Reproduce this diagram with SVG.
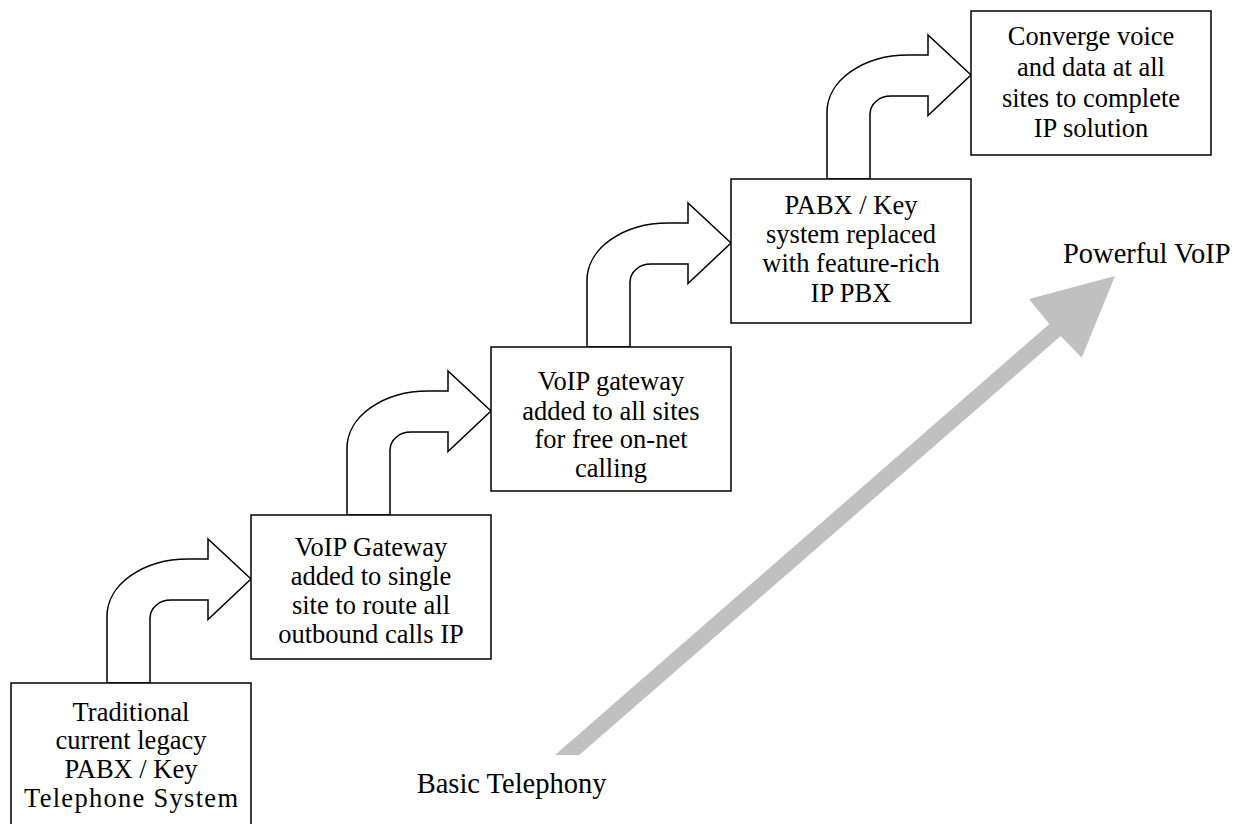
<svg xmlns="http://www.w3.org/2000/svg" width="1253" height="824" viewBox="0 0 1253 824">
<defs>
<style>
.box{fill:#fff;stroke:#000;stroke-width:1.5}
.bent{fill:#fff;stroke:#000;stroke-width:1.5;stroke-linejoin:miter}
.t{font-family:"Liberation Serif","Times New Roman",serif;font-size:26.5px;fill:#000;text-anchor:middle}
.lbl{font-family:"Liberation Serif","Times New Roman",serif;font-size:28.5px;fill:#000}
</style>
<path id="bentArrow" d="M96,0 L96,-67 A81,57 0 0 1 177,-124 L197,-124 L197,-144 L240,-104 L197,-63.5 L197,-83 L160,-83 A21,18 0 0 0 139,-65 L139,0 Z"/>
</defs>
<rect width="1253" height="824" fill="#fff"/>
<g id="connectors">
<use href="#bentArrow" class="bent" transform="translate(11,683)"/>
<use href="#bentArrow" class="bent" transform="translate(251,515)"/>
<use href="#bentArrow" class="bent" transform="translate(491,347)"/>
<use href="#bentArrow" class="bent" transform="translate(731,179)"/>
<polygon id="progress-arrow" points="555,755 1049.3,324 1029,299 1115,276 1081.7,357.7 1060.7,336 579.3,755" fill="#c0c0c0"/>
</g>
<g id="node1">
<rect class="box" x="11" y="683" width="240" height="160"/>
<text class="t"><tspan x="131" y="720.7">Traditional</tspan><tspan x="131" y="749.3">current legacy</tspan><tspan x="131" y="778.3">PABX / Key</tspan><tspan x="131" y="806.7" textLength="214" lengthAdjust="spacing">Telephone System</tspan></text>
</g>
<g id="node2">
<rect class="box" x="251" y="515" width="240" height="144"/>
<text class="t"><tspan x="371" y="556">VoIP Gateway</tspan><tspan x="371" y="585">added to single</tspan><tspan x="371" y="614">site to route all</tspan><tspan x="371" y="643">outbound calls IP</tspan></text>
</g>
<g id="node3">
<rect class="box" x="491" y="347" width="240" height="144"/>
<text class="t"><tspan x="611" y="390">VoIP gateway</tspan><tspan x="611" y="420">added to all sites</tspan><tspan x="611" y="448.3">for free on-net</tspan><tspan x="611" y="476.7">calling</tspan></text>
</g>
<g id="node4">
<rect class="box" x="731" y="179" width="240" height="144"/>
<text class="t"><tspan x="851" y="214.3">PABX / Key</tspan><tspan x="851" y="243.3">system replaced</tspan><tspan x="851" y="271.7">with feature-rich</tspan><tspan x="851" y="301.7">IP PBX</tspan></text>
</g>
<g id="node5">
<rect class="box" x="971" y="11" width="240" height="144"/>
<text class="t"><tspan x="1091" y="45">Converge voice</tspan><tspan x="1091" y="76">and data at all</tspan><tspan x="1091" y="107">sites to complete</tspan><tspan x="1091" y="136.7">IP solution</tspan></text>
</g>
<g id="labels">
<text class="lbl" x="416.7" y="792.7">Basic Telephony</text>
<text class="lbl" x="1063" y="263.3">Powerful VoIP</text>
</g>
</svg>
